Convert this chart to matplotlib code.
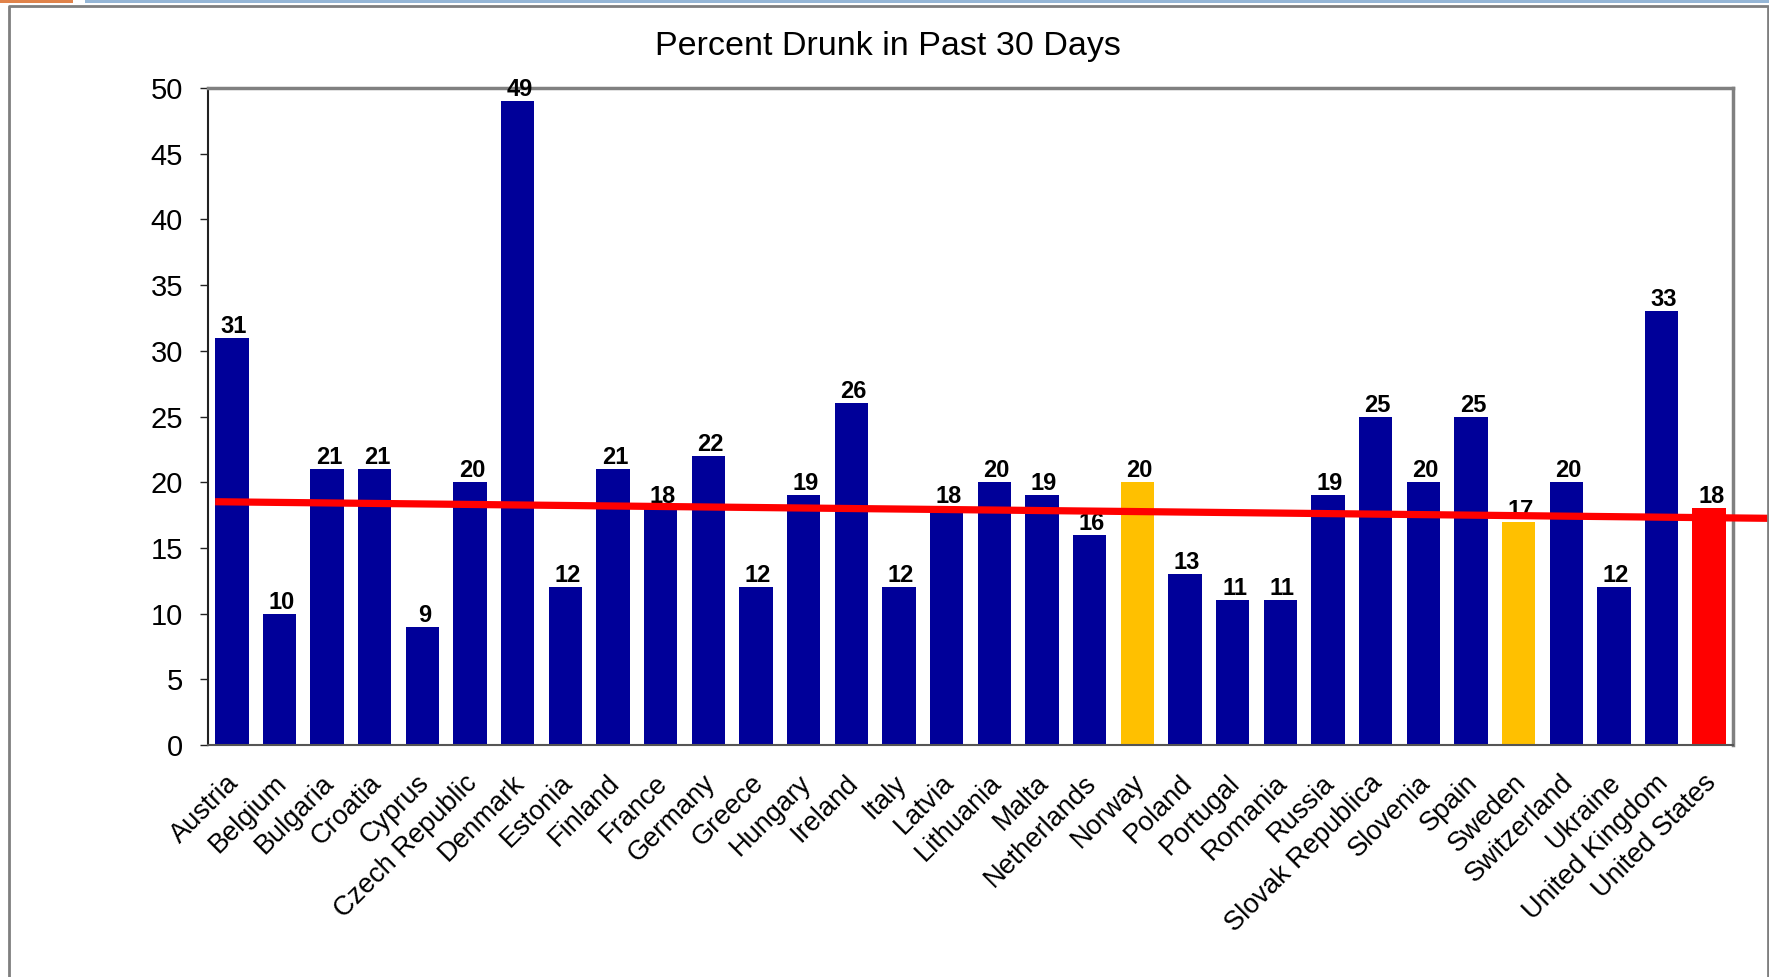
import matplotlib
matplotlib.use("Agg")
import matplotlib.pyplot as plt
import matplotlib.transforms as mtransforms
from matplotlib.patches import Rectangle
from matplotlib.lines import Line2D

countries = ["Austria", "Belgium", "Bulgaria", "Croatia", "Cyprus", "Czech Republic",
             "Denmark", "Estonia", "Finland", "France", "Germany", "Greece", "Hungary",
             "Ireland", "Italy", "Latvia", "Lithuania", "Malta", "Netherlands", "Norway",
             "Poland", "Portugal", "Romania", "Russia", "Slovak Republica", "Slovenia",
             "Spain", "Sweden", "Switzerland", "Ukraine", "United Kingdom", "United States"]
percent_drunk = [31, 10, 21, 21, 9, 20, 49, 12, 21, 18, 22, 12, 19, 26, 12, 18, 20,
                 19, 16, 20, 13, 11, 11, 19, 25, 20, 25, 17, 20, 12, 33, 18]
nordic = ["Norway", "Sweden"]
usa = "United States"
# trend line values at the first and last country
trend_start = 18.5
trend_end = 17.3
yticks = list(range(0, 55, 5))

BLUE = "#000099"
GOLD = "#FFC000"
RED = "#FF0000"

plt.rcParams["font.family"] = ["Liberation Sans", "DejaVu Sans"]

W, H = 1769, 977
fig = plt.figure(figsize=(W / 100, H / 100), dpi=100)
fig.patch.set_facecolor("white")

# slide decorations: coloured band on top and grey frame
fig.patches.append(Rectangle((0, 1 - 3 / H), 73 / W, 3 / H, transform=fig.transFigure,
                             facecolor="#E0834A", edgecolor="none"))
fig.patches.append(Rectangle((85 / W, 1 - 3 / H), 1 - 85 / W, 3 / H, transform=fig.transFigure,
                             facecolor="#95B6D6", edgecolor="none"))
fig.lines.append(Line2D([9 / W, 9 / W, 1768 / W, 1768 / W], [0, 1 - 6 / H, 1 - 6 / H, 0],
                        transform=fig.transFigure, color="#7F7F7F", linewidth=2))

ax = fig.add_axes([208 / W, 1 - 745 / H, (1733 - 208) / W, (745 - 88) / H])

x = list(range(len(countries)))
colors = [RED if c == usa else GOLD if c in nordic else BLUE for c in countries]
ax.bar(x, percent_drunk, width=0.7, color=colors, zorder=2)

ax.set_xlim(-0.5, len(countries) - 0.5)
ax.set_ylim(0, 50)
ax.set_yticks(yticks)
ax.set_yticklabels([str(v) for v in yticks], fontsize=21)
ax.tick_params(axis="y", direction="out", length=6, width=1, pad=12, color="#222222")
ax.tick_params(axis="x", length=0)

ax.set_xticks(x)
ax.set_xticklabels(countries, fontsize=19.5, rotation=45, ha="right", va="top",
                   rotation_mode="anchor")
for lbl in ax.get_xticklabels():
    lbl.set_transform(lbl.get_transform() +
                      mtransforms.ScaledTranslation(-6 / 100, -20 / 100, fig.dpi_scale_trans))

for side in ("top", "right"):
    ax.spines[side].set_color("#808080")
    ax.spines[side].set_linewidth(2.5)
ax.spines["left"].set_color("#222222")
ax.spines["left"].set_linewidth(1.5)
ax.spines["bottom"].set_color("#555555")
ax.spines["bottom"].set_linewidth(1.5)

# value labels
for xi, v in zip(x, percent_drunk):
    ax.annotate(str(v), (xi, v), xytext=(1.5, 3.6), textcoords="offset points",
                ha="center", va="baseline", fontsize=17, fontweight="bold",
                family=["Liberation Sans Narrow", "Liberation Sans", "DejaVu Sans"],
                clip_on=False, zorder=4)

# trend line, running past the plot area to the right edge of the figure
slope = (trend_end - trend_start) / (len(countries) - 1)
x_left = -0.35
x_right = ax.transData.inverted().transform(
    fig.transFigure.transform((1.0, 0.5)))[0]
ax.plot([x_left, x_right], [trend_start + slope * x_left, trend_start + slope * x_right],
        color=RED, linewidth=5.2, solid_capstyle="butt", clip_on=False, zorder=5)

fig.text(888 / W, 1 - 47 / H, "Percent Drunk in Past 30 Days", fontsize=24.5,
         ha="center", va="center")

fig.savefig("out.png", dpi=100, facecolor="white")
